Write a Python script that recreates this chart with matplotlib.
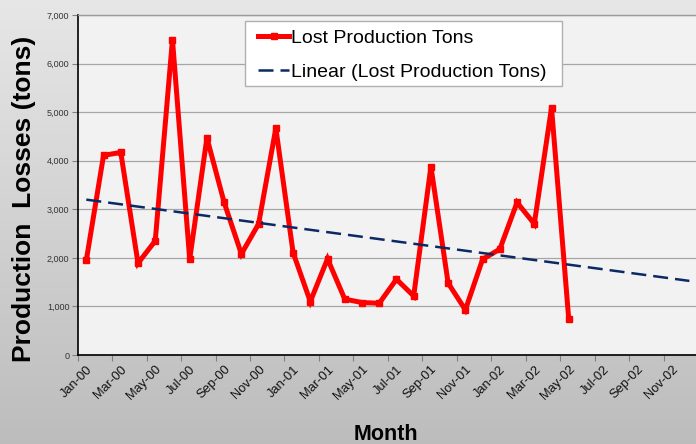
import numpy as np
import matplotlib
matplotlib.use("Agg")
import matplotlib.pyplot as plt
from matplotlib.patches import Rectangle
from matplotlib.ticker import FixedLocator, FuncFormatter

plt.rcParams['font.family'] = ['Liberation Sans', 'DejaVu Sans']

# ---- data ----
month_names = ["Jan", "Feb", "Mar", "Apr", "May", "Jun",
               "Jul", "Aug", "Sep", "Oct", "Nov", "Dec"]
years = ["00", "01", "02"]
categories = [f"{m}-{y}" for y in years for m in month_names]  # Jan-00 .. Dec-02

lost_tons = [1950, 4110, 4170, 1890, 2350, 6490, 1970, 4470, 3140, 2080,
             2700, 4670, 2110, 1100, 1980, 1150, 1080, 1065, 1560, 1215,
             3880, 1480, 930, 1970, 2180, 3140, 2700, 5090, 735]

y_ticks = [0, 1000, 2000, 3000, 4000, 5000, 6000, 7000]

series_label = "Lost Production Tons"
trend_label = "Linear (Lost Production Tons)"

# ---- figure ----
W, H = 696, 444
fig = plt.figure(figsize=(W / 100, H / 100), dpi=100)

# gradient background
bg = fig.add_axes([0, 0, 1, 1], zorder=-10)
grad = np.linspace(0, 1, 256).reshape(-1, 1)
top_c = np.array([0.905, 0.905, 0.905])
bot_c = np.array([0.74, 0.74, 0.74])
img = top_c[None, None, :] * (1 - grad[:, :, None]) + bot_c[None, None, :] * grad[:, :, None]
bg.imshow(img, aspect='auto', extent=[0, 1, 0, 1], origin='upper')
bg.set_axis_off()

left = 77.7 / W
bottom = (H - 355) / H
top = (H - 15) / H
width = 36 * 17.23 / W
ax = fig.add_axes([left, bottom, width, top - bottom])
ax.set_facecolor('#f2f2f2')

x = np.arange(len(lost_tons))
ax.plot(x, lost_tons, color='#ff0000', lw=3.6, marker='s', markersize=4.5,
        markeredgecolor='#ff0000', markerfacecolor='#ff0000',
        label=series_label, zorder=3, solid_joinstyle='miter')

# linear trend line, forecast to end of axis
coef = np.polyfit(x, lost_tons, 1)
xt = np.array([0, len(categories) - 1])
(tl,) = ax.plot(xt, np.polyval(coef, xt), color='#0b2a63', lw=1.8,
                label=trend_label, zorder=4)
tl.set_dashes((6, 2.8))

ax.set_xlim(-0.5, len(categories) - 0.5)
ax.set_ylim(0, 7000)

# y axis
ax.yaxis.set_major_locator(FixedLocator(y_ticks))
ax.yaxis.set_major_formatter(FuncFormatter(lambda v, p: f"{int(v):,}"))
ax.tick_params(axis='y', direction='out', length=4, width=0.8, color='#808080',
               labelsize=6.5, labelcolor='#333333', pad=2)
ax.grid(axis='y', color='#a6a6a6', lw=0.9, zorder=0)
ax.set_axisbelow(True)

# x axis: labels at category centers every 2, tick marks at boundaries
label_pos = np.arange(0, len(categories), 2)
ax.set_xticks(label_pos)
ax.set_xticklabels([categories[i] for i in label_pos], rotation=45,
                   ha='right', va='top', rotation_mode='anchor', fontsize=9.3)
ax.tick_params(axis='x', which='major', length=0, pad=6, labelcolor='#111111')
ax.set_xticks(np.arange(-0.5, len(categories), 2), minor=True)
ax.tick_params(axis='x', which='minor', direction='out', length=4, width=0.8,
               color='#808080')

for s in ['left', 'bottom']:
    ax.spines[s].set_color('black')
    ax.spines[s].set_linewidth(1.2)
ax.spines['top'].set_color('#999999')
ax.spines['top'].set_linewidth(1.0)
ax.spines['right'].set_visible(False)

# axis titles
fig.text(24.5 / W, 1 - 198.5 / H, "Production  Losses (tons)", rotation=90,
         ha='center', va='center', fontsize=19, fontweight='bold')
fig.text(385.7 / W, 1 - 434.7 / H, "Month", ha='center', va='center',
         fontsize=15.5, fontweight='bold')

# legend frame (drawn separately) and legend entries
frame = Rectangle((245 / W, 1 - 86 / H), (562 - 245) / W, (86 - 20.7) / H,
                  transform=fig.transFigure, facecolor='white',
                  edgecolor='#b0b0b0', lw=1.0, zorder=5)
fig.add_artist(frame)
leg = ax.legend(loc='upper left', bbox_to_anchor=(258 / W, 1 - 29 / H),
                bbox_transform=fig.transFigure, borderaxespad=0,
                fontsize=14, frameon=False, numpoints=1,
                handlelength=1.6, handletextpad=0.1, borderpad=0,
                labelspacing=0.87)
leg.set_zorder(6)
fig.add_artist(leg)

fig.savefig("out.png", dpi=100)
